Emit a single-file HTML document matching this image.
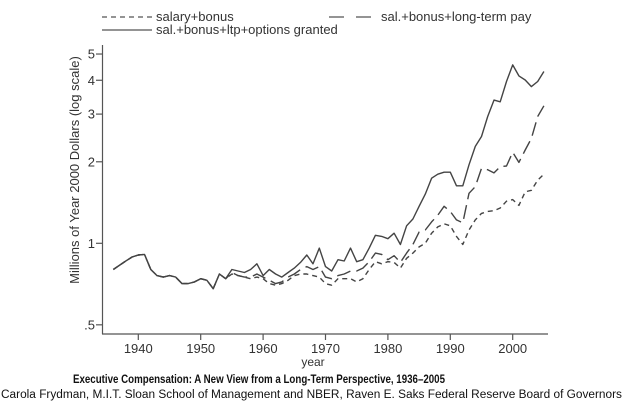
<!DOCTYPE html>
<html><head><meta charset="utf-8"><style>
body{margin:0;background:#fff;}
svg{display:block;font-family:"Liberation Sans",sans-serif;}
</style></head><body>
<svg id="chart" width="629" height="405" xmlns="http://www.w3.org/2000/svg">
<g id="legend" font-size="13" fill="#333">
 <g><line x1="102" y1="17" x2="152" y2="17" stroke="#555" stroke-width="1.3" stroke-dasharray="5,4"/><text x="156" y="21">salary+bonus</text></g>
 <g><line x1="329" y1="17" x2="375" y2="17" stroke="#555" stroke-width="1.3" stroke-dasharray="15,12"/><text x="381" y="21">sal.+bonus+long-term pay</text></g>
 <g><line x1="102" y1="30" x2="152" y2="30" stroke="#555" stroke-width="1.3"/><text x="156" y="34">sal.+bonus+ltp+options granted</text></g>
</g>
<g id="axes" stroke="#555" stroke-width="1.2"></g>
<g id="ticks" font-size="13" fill="#333"></g>
<text transform="translate(79,170) rotate(-90)" text-anchor="middle" font-size="13" fill="#333">Millions of Year 2000 Dollars (log scale)</text>
<text x="313" y="366" text-anchor="middle" font-size="12" fill="#333">year</text>
<g id="series"></g>
<text x="73" y="383" font-size="12" font-weight="bold" textLength="372" lengthAdjust="spacingAndGlyphs" fill="#111">Executive Compensation: A New View from a Long-Term Perspective, 1936–2005</text>
<text x="1" y="398" font-size="11.5" textLength="621" lengthAdjust="spacingAndGlyphs" fill="#111">Carola Frydman, M.I.T. Sloan School of Management and NBER, Raven E. Saks Federal Reserve Board of Governors</text>
</svg>
<script>
const years=[];for(let y=1936;y<=2005;y++)years.push(y);
const early=[0.80,0.83,0.86,0.89,0.905,0.91,0.80,0.76,0.75,0.76,0.75,0.71,0.71,0.72,0.74,0.73,0.68,0.77,0.74];
const totalLate=[0.80,0.79,0.78,0.80,0.84,0.76,0.80,0.77,0.75,0.78,0.81,0.85,0.905,0.84,0.96,0.82,0.79,0.87,0.86,0.96,0.855,0.87,0.96,1.07,1.06,1.04,1.09,0.99,1.16,1.23,1.37,1.52,1.74,1.80,1.83,1.83,1.63,1.63,1.95,2.28,2.48,2.94,3.38,3.33,3.96,4.56,4.15,4.01,3.79,3.96,4.31];
const ltpLate=[0.78,0.76,0.75,0.75,0.77,0.75,0.73,0.71,0.72,0.75,0.77,0.80,0.82,0.80,0.82,0.75,0.74,0.76,0.77,0.79,0.79,0.81,0.855,0.92,0.91,0.87,0.90,0.85,0.92,0.99,1.10,1.12,1.20,1.27,1.37,1.31,1.22,1.19,1.53,1.62,1.89,1.87,1.82,1.92,1.93,2.17,1.99,2.21,2.44,2.94,3.22];
const salLate=[0.77,0.76,0.75,0.74,0.75,0.74,0.71,0.70,0.71,0.73,0.76,0.77,0.77,0.76,0.75,0.71,0.70,0.74,0.74,0.74,0.72,0.74,0.80,0.855,0.84,0.855,0.85,0.81,0.88,0.92,0.97,1.0,1.09,1.15,1.18,1.16,1.06,0.99,1.12,1.22,1.29,1.31,1.32,1.35,1.43,1.45,1.38,1.55,1.57,1.71,1.80];
const totalSeries=early.concat(totalLate), ltpSeries=early.concat(ltpLate), salarySeries=early.concat(salLate);
const yTicks=[0.5,1,2,3,4,5], yTickLabels=[".5","1","2","3","4","5"];
const xTicks=[1940,1950,1960,1970,1980,1990,2000];

const X=y=>138.3+(y-1940)*6.24;
const Y=v=>243.3-Math.log(v)*117.6;
const NS="http://www.w3.org/2000/svg";
function mk(tag,attrs,parent){const e=document.createElementNS(NS,tag);for(const k in attrs)e.setAttribute(k,attrs[k]);parent.appendChild(e);return e;}
const axes=document.getElementById('axes'),ticks=document.getElementById('ticks'),series=document.getElementById('series');
const ya=mk('line',{x1:102.5,y1:45,x2:102.5,y2:334},axes);


const xa=mk('line',{x1:102,y1:334,x2:548,y2:334},axes);


yTicks.forEach((v,i)=>{
 const t=mk('line',{x1:96,y1:Y(v),x2:102,y2:Y(v)},axes);
 
 
 const l=mk('text',{x:95,y:Y(v)+4.5,'text-anchor':'end'},ticks);l.textContent=yTickLabels[i];
 
 
});
xTicks.forEach(y=>{
 const t=mk('line',{x1:X(y),y1:334,x2:X(y),y2:340},axes);
 
 
 const l=mk('text',{x:X(y),y:353,'text-anchor':'middle'},ticks);l.textContent=y;
 
 
});
function line(vals,dash,name){
 const d=vals.map((v,i)=>(i?'L':'M')+X(years[i]).toFixed(1)+','+Y(v).toFixed(1)).join(' ');
 const p=mk('path',{d:d,fill:'none',stroke:'#444','stroke-width':1.4,'stroke-dasharray':dash,'stroke-linejoin':'round'},series);
 
 
}
line(salarySeries,'5,4','salary-bonus-line');
line(ltpSeries,'14,6','long-term-pay-line');
line(totalSeries,'none','options-granted-line');
</script>
</body></html>
